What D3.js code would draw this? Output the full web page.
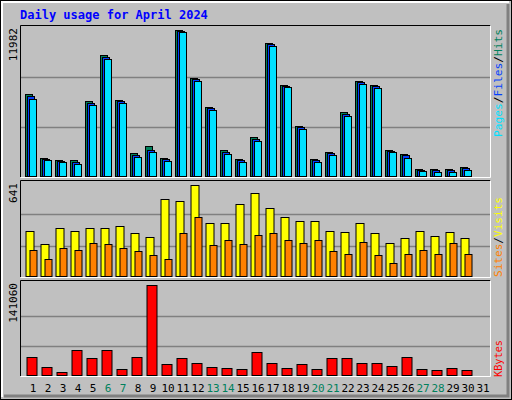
<!DOCTYPE html>
<html>
<head>
<meta charset="utf-8">
<script src="https://cdn.jsdelivr.net/npm/d3@7"></script>
<style>
body { margin: 0; background: #fff; }
text { font-family: "DejaVu Sans Mono", monospace; }
</style>
</head>
<body>
<div id="chart"></div>
<script>
var days = d3.range(1, 32);
var weekendDays = [6, 7, 13, 14, 20, 21, 27, 28];

var hits = [6695, 1489, 1326, 1326, 6125, 9867, 6207, 1895, 2465, 1489, 11982, 7996, 5637, 2139, 1407, 3197, 10843, 7427, 4092, 1407, 1977, 5230, 7752, 7427, 2139, 1814, 594, 594, 594, 756];
var files = [6600, 1450, 1290, 1200, 6020, 9760, 6130, 1790, 2150, 1420, 11900, 7920, 5560, 2020, 1330, 3080, 10760, 7380, 4010, 1320, 1900, 5130, 7680, 7350, 2100, 1720, 560, 530, 540, 700];
var pages = [6345, 1383, 1220, 1057, 5857, 9598, 6020, 1627, 2034, 1301, 11795, 7809, 5450, 1871, 1220, 2928, 10656, 7321, 3904, 1220, 1790, 4962, 7565, 7240, 2034, 1546, 488, 407, 407, 569];
var visits = [314, 223, 341, 314, 341, 341, 355, 300, 272, 543, 523, 641, 376, 376, 502, 585, 474, 418, 390, 390, 314, 307, 376, 300, 230, 265, 314, 279, 307, 265];
var sites = [188, 125, 202, 188, 230, 223, 202, 181, 153, 125, 300, 418, 216, 251, 223, 286, 300, 251, 230, 251, 181, 160, 237, 153, 91, 160, 188, 160, 230, 160];
var kbytes = [29452, 12401, 6200, 38753, 26352, 38753, 9301, 29452, 141060, 18601, 26352, 20151, 12401, 10851, 9301, 35653, 20151, 10851, 18601, 9301, 26352, 26352, 20151, 20151, 15501, 29452, 9301, 7751, 10851, 7751];

var W = 512, H = 400;
var svg = d3.select("#chart").append("svg").attr("width", W).attr("height", H);

// background and bevel
svg.append("rect").attr("x", 0).attr("y", 0).attr("width", W).attr("height", H).attr("fill", "#c0c0c0");
svg.append("rect").attr("x", 0.5).attr("y", 0.5).attr("width", W - 1).attr("height", H - 1).attr("fill", "none").attr("stroke", "#000");
svg.append("path").attr("d", "M2,397V2H509").attr("fill", "none").attr("stroke", "#fff").attr("stroke-width", 2);
svg.append("path").attr("d", "M4,396H508V4").attr("fill", "none").attr("stroke", "#808080").attr("stroke-width", 3);

svg.append("text").attr("x", 20).attr("y", 19)
  .attr("fill", "#0000ff").attr("font-weight", "bold").style("font-size", "12px")
  .text("Daily usage for April 2024");

var x = d3.scaleBand().domain(days).range([25.5, 490.5]);
var left = 20, right = 490;

var panels = [
  {top: 25, bottom: 177, max: 11982, label: "11982", grid: 150},
  {top: 180, bottom: 277, max: 641, label: "641", grid: 94.5},
  {top: 280, bottom: 376, max: 141060, label: "141060", grid: 90}
];

panels.forEach(function(p) {
  p.y = d3.scaleLinear().domain([0, p.max]).range([p.bottom - 0.5, p.top + 4.5]);
  [1 / 3, 2 / 3].forEach(function(f) {
    var gy = Math.round(p.bottom - p.grid * f) + 0.5;
    svg.append("line").attr("x1", left).attr("x2", right).attr("y1", gy).attr("y2", gy)
      .attr("stroke", "#808080").attr("stroke-width", 1.5);
  });
  svg.append("path").attr("d", "M" + (left + 0.5) + "," + p.bottom + "V" + (p.top + 0.5) + "H" + (right + 0.5))
    .attr("fill", "none").attr("stroke", "#000");
  svg.append("path").attr("d", "M" + (left + 0.5) + "," + (p.bottom + 0.5) + "H" + (right + 0.5) + "V" + (p.top + 0.5))
    .attr("fill", "none").attr("stroke", "#fff");
  svg.append("text").attr("transform", "translate(17," + (p.top + 3) + ")rotate(-90)")
    .attr("text-anchor", "end").style("font-size", "11px").attr("fill", "#000").text(p.label);
});

function bars(data, panel, dx, w, fill) {
  svg.append("g").selectAll("rect").data(data).enter().append("rect")
    .attr("x", function(d, i) { return x(days[i]) + dx + 0.5; })
    .attr("y", function(d) { return Math.round(panel.y(d)) + 0.5; })
    .attr("width", w)
    .attr("height", function(d) { return panel.bottom - 1 - Math.round(panel.y(d)); })
    .attr("fill", fill).attr("stroke", "#000");
}

var p0 = panels[0], p1 = panels[1], p2 = panels[2];
bars(hits, p0, -0.5, 7, "#00805c");
bars(files, p0, 1.5, 7, "#0040ff");
bars(pages, p0, 3.5, 7, "#00e0ff");
bars(visits, p1, 0, 8, "#ffff00");
bars(sites, p1, 4, 7, "#ff8000");
bars(kbytes, p2, 1, 10, "#ff0000");

// day labels
svg.append("g").selectAll("text").data(days).enter().append("text")
  .attr("x", function(d) { return x(d) + x.bandwidth() / 2; })
  .attr("y", 392)
  .attr("text-anchor", "middle").style("font-size", "11px")
  .attr("fill", function(d) { return weekendDays.indexOf(d) >= 0 ? "#00805c" : "#000"; })
  .text(function(d) { return d; });

// right-side legends
function legend(parts, yEnd, len) {
  var t = svg.append("text").attr("transform", "translate(502," + yEnd + ")rotate(-90)")
    .style("font-size", "10px").attr("textLength", len).attr("lengthAdjust", "spacingAndGlyphs");
  parts.forEach(function(pt) { t.append("tspan").attr("fill", pt[1]).text(pt[0]); });
}
legend([["Pages", "#00e0ff"], ["/", "#000"], ["Files", "#0040ff"], ["/", "#000"], ["Hits", "#00805c"]], 137, 108);
legend([["Sites", "#ff8000"], ["/", "#000"], ["Visits", "#ffff00"]], 277, 80);
legend([["KBytes", "#ff0000"]], 377, 37);
</script>
</body>
</html>
